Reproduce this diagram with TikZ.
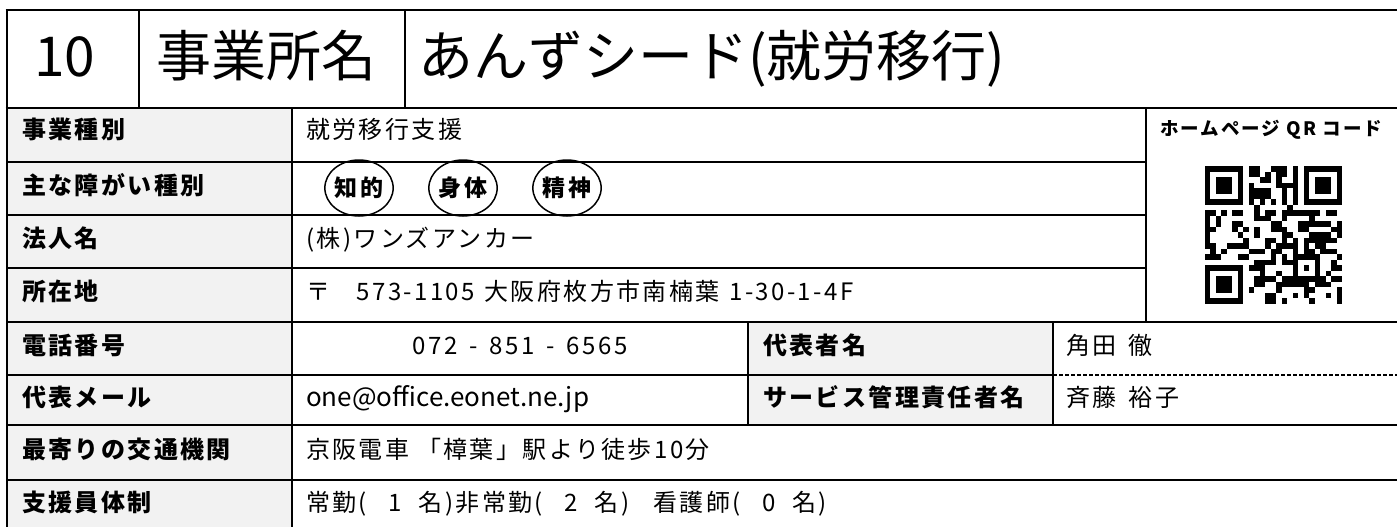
\documentclass[tikz,border=0pt]{standalone}
\usepackage{fontspec}
\usetikzlibrary{shapes.geometric}
\newfontfamily\jp{Noto Sans CJK JP}
\newfontfamily\jpsp[LetterSpace=10]{Noto Sans CJK JP}
\newfontfamily\jpqr[LetterSpace=11]{Noto Sans CJK JP}
\definecolor{cellgray}{HTML}{F2F2F2}
\tikzset{
  ttl/.style={anchor=west, inner sep=0pt, font=\jp\fontsize{55}{60}\selectfont, text height=47pt, text depth=7pt},
  lab/.style={anchor=west, inner sep=0pt, font=\jpsp\bfseries\fontsize{24}{28}\selectfont, text height=21pt, text depth=3.5pt},
  val/.style={anchor=west, inner sep=0pt, font=\jpsp\fontsize{24}{28}\selectfont, text height=21pt, text depth=3.5pt},
  lat/.style={anchor=west, inner sep=0pt, font=\jp\fontsize{26}{30}\selectfont, text height=21pt, text depth=3.5pt},
  qrlab/.style={anchor=west, inner sep=0pt, font=\jpqr\bfseries\fontsize{18.5}{22}\selectfont},
  oval/.style={ellipse, draw, line width=1.5pt, minimum width=68pt, minimum height=56pt, inner sep=0pt, font=\jpsp\bfseries\fontsize{23}{26}\selectfont},
  thick line/.style={line width=2.6pt},
  mid line/.style={line width=2pt},
  thin line/.style={line width=1.6pt},
  qr/.style={fill=black}
}
\begin{document}
\begin{tikzpicture}[x=1pt,y=-1pt]
\useasboundingbox (0,0) rectangle (1397,527);
\begin{scope}
\clip (0,0) rectangle (1397,527);
% gray label cells
\fill[cellgray] (7,108) rectangle (292,540);
\fill[cellgray] (748,322) rectangle (1053,425);
% horizontal lines
\draw[thick line] (5.7,10) -- (1400,10);
\draw[thick line] (5.7,108) -- (1400,108);
\draw[thick line] (7,162) -- (1146,162);
\draw[thick line] (7,215) -- (1146,215);
\draw[thick line] (7,268) -- (1146,268);
\draw[thick line] (7,322) -- (1400,322);
\draw[thick line] (7,375) -- (1053,375);
\draw[line width=1.2pt, dash pattern=on 4pt off 2pt] (1053,375) -- (1400,375);
\draw[thick line] (7,425) -- (1400,425);
\draw[thick line] (7,480) -- (1400,480);
% vertical lines
\draw[mid line] (7,10) -- (7,540);
\draw[thin line] (139,10) -- (139,108);
\draw[thin line] (405,10) -- (405,108);
\draw[mid line] (292,108) -- (292,540);
\draw[mid line] (1146,108) -- (1146,322);
\draw[mid line] (748,322) -- (748,425);
\draw[mid line] (1053,322) -- (1053,425);
\end{scope}
% title
\node[ttl] (tnum) at (34,57) {10};
\node[ttl] (tname) at (156,57) {事業所名};
\node[ttl] (tval) at (418,57) {あんずシード(就労移行)};
% labels
\node[lab] (l1) at (22,130) {事業種別};
\node[lab] (l2) at (22,186) {主な障がい種別};
\node[lab] (l3) at (22,239) {法人名};
\node[lab] (l4) at (22,292) {所在地};
\node[lab] (l5) at (22,346) {電話番号};
\node[lab] (l6) at (22,398) {代表メール};
\node[lab] (l7) at (22,450) {最寄りの交通機関};
\node[lab] (l8) at (22,503) {支援員体制};
\node[lab] (l9) at (763,346) {代表者名};
\node[lab] (l10) at (763,398) {サービス管理責任者名};
% values
\node[val] (v1) at (306,130) {就労移行支援};
\node[oval] (c1) at (359,188) {知的};
\node[oval] (c2) at (463,188) {身体};
\node[oval] (c3) at (567,188) {精神};
\node[val] (v3) at (306,239) {(株)ワンズアンカー};
\node[val] (v4) at (306,292) {〒\hspace{1.1em}573-1105\hspace{0.4em}大阪府枚方市南楠葉\hspace{0.4em}1-30-1-4F};
\node[val, anchor=center] (v5) at (520,346) {072\enspace-\enspace851\enspace-\enspace6565};
\node[lat] (v6) at (306,398) {one@office.eonet.ne.jp};
\node[val] (v7) at (306,450) {京阪電車 「樟葉」駅より徒歩10分};
\node[val] (v8) at (306,503) {常勤(\hspace{0.9em}1\hspace{0.7em}名)非常勤(\hspace{0.9em}2\hspace{0.7em}名)\hspace{1em}看護師(\hspace{0.9em}0\hspace{0.7em}名)};
\node[val] (v9) at (1066,346) {角田\hspace{0.5em}徹};
\node[val] (v10) at (1066,398) {斉藤\hspace{0.5em}裕子};
% QR
\node[qrlab] (qrl) at (1160,130) {ホームページ QR コード};
\def\qx{1204.5}\def\qy{166}\def\qm{5.5}
\foreach \fx/\fy in {0/0,18/0,0/18}{
  \fill[qr] ({\qx+\fx*\qm},{\qy+\fy*\qm}) rectangle ++({7*\qm},{7*\qm});
  \fill[white] ({\qx+(\fx+1)*\qm},{\qy+(\fy+1)*\qm}) rectangle ++({5*\qm},{5*\qm});
  \fill[qr] ({\qx+(\fx+2)*\qm},{\qy+(\fy+2)*\qm}) rectangle ++({3*\qm},{3*\qm});
}
\fill[qr] ({\qx+16*\qm},{\qy+16*\qm}) rectangle ++({5*\qm},{5*\qm});
\fill[white] ({\qx+17*\qm},{\qy+17*\qm}) rectangle ++({3*\qm},{3*\qm});
\fill[qr] ({\qx+18*\qm},{\qy+18*\qm}) rectangle ++({\qm},{\qm});
\foreach \k in {8,10,...,16}{
  \fill[qr] ({\qx+\k*\qm},{\qy+6*\qm}) rectangle ++({\qm},{\qm});
  \fill[qr] ({\qx+6*\qm},{\qy+\k*\qm}) rectangle ++({\qm},{\qm});
}
\pgfmathsetseed{4242}
\foreach \i in {0,...,24}{
  \foreach \j in {0,...,24}{
    \pgfmathtruncatemacro\qron{rnd<0.5 ? 1 : 0}
    \def\qrok{1}
    \ifnum\i<8 \ifnum\j<8 \def\qrok{0}\fi \ifnum\j>16 \def\qrok{0}\fi\fi
    \ifnum\i>16 \ifnum\j<8 \def\qrok{0}\fi\fi
    \ifnum\i>15 \ifnum\i<21 \ifnum\j>15 \ifnum\j<21 \def\qrok{0}\fi\fi\fi\fi
    \ifnum\i=6 \def\qrok{0}\fi
    \ifnum\j=6 \def\qrok{0}\fi
    \ifnum\qrok=1 \ifnum\qron=1
      \fill[qr] ({\qx+\i*\qm},{\qy+\j*\qm}) rectangle ++({\qm},{\qm});
    \fi\fi
  }
}
\end{tikzpicture}
\end{document}
